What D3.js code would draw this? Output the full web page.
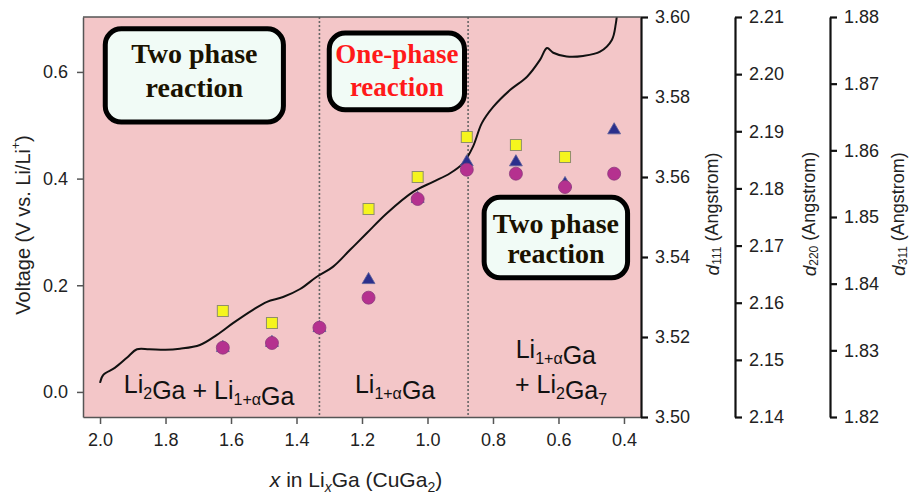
<!DOCTYPE html>
<html>
<head>
<meta charset="utf-8">
<script src="https://cdn.jsdelivr.net/npm/d3@7"></script>
<style>
  body { margin: 0; background: #fff; }
  text { font-family: "Liberation Sans", Arial, sans-serif; }
</style>
</head>
<body>
<script>
// voltage profile (x in LixGa, V vs Li/Li+)
const curveX = [2.0, 1.99, 1.955, 1.918, 1.887, 1.85, 1.8, 1.756, 1.695, 1.643, 1.594, 1.533, 1.49,
  1.441, 1.389, 1.338, 1.288, 1.237, 1.185, 1.124, 1.044, 0.983, 0.931, 0.891, 0.861, 0.834, 0.8,
  0.748, 0.696, 0.656, 0.635, 0.616, 0.575, 0.525, 0.473, 0.437, 0.425, 0.418];
const curveV = [0.017, 0.032, 0.045, 0.064, 0.08, 0.08, 0.079, 0.081, 0.088, 0.107, 0.129, 0.154, 0.169,
  0.178, 0.193, 0.216, 0.235, 0.266, 0.298, 0.335, 0.375, 0.394, 0.41, 0.429, 0.46, 0.504, 0.534,
  0.566, 0.591, 0.623, 0.645, 0.636, 0.629, 0.63, 0.638, 0.66, 0.69, 0.73];

// d-spacing points
const pointX = [1.625, 1.475, 1.33, 1.18, 1.03, 0.88, 0.73, 0.58, 0.43];
const d111 = [3.5265, 3.5235, null, 3.552, 3.560, 3.570, 3.568, 3.565, null];
const d220 = [2.1521, 2.1530, 2.1556, 2.1640, 2.1782, 2.1846, 2.1846, 2.1808, 2.1902];
const d311 = [1.8304, 1.8311, 1.8334, 1.8379, 1.8527, 1.8571, 1.8565, 1.8545, 1.8565];

// ticks
const xTicks = [2.0, 1.8, 1.6, 1.4, 1.2, 1.0, 0.8, 0.6, 0.4];
const vTicks = [0.0, 0.2, 0.4, 0.6];
const d111Ticks = [3.50, 3.52, 3.54, 3.56, 3.58, 3.60];
const d220Ticks = [2.14, 2.15, 2.16, 2.17, 2.18, 2.19, 2.20, 2.21];
const d311Ticks = [1.82, 1.83, 1.84, 1.85, 1.86, 1.87, 1.88];

const boundaries = [1.33, 0.876];

const width = 913;
const height = 495;
const pL = 83, pR = 641, pT = 17, pB = 417;

const svg = d3.select("body").append("svg")
  .attr("width", width)
  .attr("height", height);

const x = d3.scaleLinear().domain([2.052, 0.348]).range([pL, pR]);
const y = d3.scaleLinear().domain([-0.047, 0.703]).range([pB, pT]);
const y111 = d3.scaleLinear().domain([3.50, 3.60]).range([pB, pT]);
const y220 = d3.scaleLinear().domain([2.14, 2.21]).range([pB, pT]);
const y311 = d3.scaleLinear().domain([1.82, 1.88]).range([pB, pT]);

svg.append("defs").append("clipPath").attr("id", "clip")
  .append("rect")
  .attr("x", pL).attr("y", pT)
  .attr("width", pR - pL).attr("height", pB - pT);

// background
svg.append("rect")
  .attr("x", pL).attr("y", pT)
  .attr("width", pR - pL).attr("height", pB - pT)
  .attr("fill", "#f3c6c8");

// phase boundaries
svg.selectAll(".boundary")
  .data(boundaries)
  .enter()
  .append("line")
  .attr("class", "boundary")
  .attr("x1", (d) => x(d)).attr("x2", (d) => x(d))
  .attr("y1", pT).attr("y2", pB)
  .attr("stroke", "#666")
  .attr("stroke-width", 1.6)
  .attr("stroke-dasharray", "2,2");

// annotation boxes (data coords)
const boxes = [
  { x0: 1.984, x1: 1.44, y0: 0.681, y1: 0.506, lines: ["Two phase", "reaction"], color: "#1a1200", size: 28, b: [63, 97] },
  { x0: 1.30, x1: 0.887, y0: 0.673, y1: 0.529, lines: ["One-phase", "reaction"], color: "#ff1a1a", size: 27, b: [63, 96] },
  { x0: 0.827, x1: 0.389, y0: 0.365, y1: 0.214, lines: ["Two phase", "reaction"], color: "#1a1200", size: 28, b: [233, 263] },
];

const boxG = svg.append("g");
boxes.forEach((bx) => {
  boxG.append("rect")
    .attr("x", x(bx.x0)).attr("y", y(bx.y0))
    .attr("width", x(bx.x1) - x(bx.x0))
    .attr("height", y(bx.y1) - y(bx.y0))
    .attr("rx", 16)
    .attr("fill", "#f1fbf6")
    .attr("stroke", "#000")
    .attr("stroke-width", 5);
  bx.lines.forEach((t, i) => {
    boxG.append("text")
      .attr("x", (x(bx.x0) + x(bx.x1)) / 2)
      .attr("y", bx.b[i])
      .attr("text-anchor", "middle")
      .style("font-family", "'Liberation Serif', 'Times New Roman', serif")
      .style("font-weight", "bold")
      .style("font-size", bx.size + "px")
      .attr("fill", bx.color)
      .text(t);
  });
});

// voltage curve
const line = d3.line()
  .x((d, i) => x(curveX[i]))
  .y((d) => y(d))
  .curve(d3.curveCatmullRom);

svg.append("path")
  .attr("clip-path", "url(#clip)")
  .attr("d", line(curveV))
  .attr("fill", "none")
  .attr("stroke", "#111")
  .attr("stroke-width", 2);

// markers
const tri = d3.symbol().type(d3.symbolTriangle).size(72);

svg.append("g").selectAll("path")
  .data(pointX.map((px, i) => [px, d220[i]]).filter((d) => d[1] != null))
  .enter()
  .append("path")
  .attr("d", tri)
  .attr("transform", (d) => `translate(${x(d[0])},${y220(d[1])})`)
  .attr("fill", "#2b2f8c")
  .attr("stroke", "#5a5f9a")
  .attr("stroke-width", 0.8);

svg.append("g").selectAll("circle")
  .data(pointX.map((px, i) => [px, d311[i]]).filter((d) => d[1] != null))
  .enter()
  .append("circle")
  .attr("cx", (d) => x(d[0]))
  .attr("cy", (d) => y311(d[1]))
  .attr("r", 6.5)
  .attr("fill", "#b5318f")
  .attr("stroke", "#8a3a7c")
  .attr("stroke-width", 0.8);

svg.append("g").selectAll("rect")
  .data(pointX.map((px, i) => [px, d111[i]]).filter((d) => d[1] != null))
  .enter()
  .append("rect")
  .attr("x", (d) => x(d[0]) - 5.5)
  .attr("y", (d) => y111(d[1]) - 5.5)
  .attr("width", 11)
  .attr("height", 11)
  .attr("fill", "#f5f51e")
  .attr("stroke", "#8f8f6a")
  .attr("stroke-width", 1);

// phase labels
function phaseLabel(px, py, parts) {
  const t = svg.append("text")
    .attr("x", x(px)).attr("y", y(py))
    .attr("text-anchor", "middle")
    .style("font-size", "25px")
    .attr("fill", "#111");
  parts.forEach((p) => {
    if (p.sub) {
      t.append("tspan").attr("dy", 6).style("font-size", "16px").text(p.sub);
      t.append("tspan").attr("dy", -6).text("");
    } else {
      t.append("tspan").text(p.t);
    }
  });
}
phaseLabel(1.667, -0.002, [{ t: "Li" }, { sub: "2" }, { t: "Ga + Li" }, { sub: "1+\u03b1" }, { t: "Ga" }]);
phaseLabel(1.099, -0.002, [{ t: "Li" }, { sub: "1+\u03b1" }, { t: "Ga" }]);
phaseLabel(0.608, 0.064, [{ t: "Li" }, { sub: "1+\u03b1" }, { t: "Ga" }]);
phaseLabel(0.592, -0.002, [{ t: "+ Li" }, { sub: "2" }, { t: "Ga" }, { sub: "7" }]);

// frame top
svg.append("line")
  .attr("x1", pL).attr("x2", pR)
  .attr("y1", pT).attr("y2", pT)
  .attr("stroke", "#555").attr("stroke-width", 1.5);

// axes
function styleAxis(g, color, w) {
  g.selectAll("path").attr("stroke", color).attr("stroke-width", w);
  g.selectAll("line").attr("stroke", color).attr("stroke-width", w);
  g.selectAll("text").style("font-size", "18px").attr("fill", "#222")
    .style("font-family", "'Liberation Sans', Arial, sans-serif");
}

const gLeft = svg.append("g")
  .attr("transform", `translate(${pL},0)`)
  .call(d3.axisLeft(y).tickValues(vTicks).tickFormat(d3.format(".1f"))
    .tickSize(6).tickPadding(9).tickSizeOuter(0));
styleAxis(gLeft, "#555", 1.5);

const gBottom = svg.append("g")
  .attr("transform", `translate(0,${pB})`)
  .call(d3.axisBottom(x).tickValues(xTicks).tickFormat(d3.format(".1f"))
    .tickSize(7).tickPadding(9).tickSizeOuter(0));
styleAxis(gBottom, "#555", 1.5);

const rightAxes = [
  { scale: y111, ticks: d111Ticks, at: pR, label: "111", lx: 712 },
  { scale: y220, ticks: d220Ticks, at: 735, label: "220", lx: 809 },
  { scale: y311, ticks: d311Ticks, at: 830, label: "311", lx: 898 },
];

rightAxes.forEach((a) => {
  const g = svg.append("g")
    .attr("transform", `translate(${a.at},0)`)
    .call(d3.axisRight(a.scale).tickValues(a.ticks).tickFormat(d3.format(".2f"))
      .tickSize(7).tickPadding(7).tickSizeOuter(0));
  styleAxis(g, "#111", 2.2);

  const t = svg.append("text")
    .attr("transform", `translate(${a.lx},214) rotate(-90)`)
    .attr("text-anchor", "middle")
    .attr("dominant-baseline", "central")
    .style("font-size", "18px")
    .attr("fill", "#222");
  t.append("tspan").style("font-style", "italic").style("font-size", "19px").text("d");
  t.append("tspan").attr("dy", 5).style("font-size", "12px").text(a.label);
  t.append("tspan").attr("dy", -5).text(" (Angstrom)");
});

// axis titles
const yl = svg.append("text")
  .attr("transform", "translate(23,225) rotate(-90)")
  .attr("text-anchor", "middle")
  .attr("dominant-baseline", "central")
  .style("font-size", "20px")
  .attr("fill", "#222");
yl.append("tspan").text("Voltage (V vs. Li/Li");
yl.append("tspan").attr("dy", -7).style("font-size", "12px").text("+");
yl.append("tspan").attr("dy", 7).text(")");

const xl = svg.append("text")
  .attr("x", 356).attr("y", 487)
  .attr("text-anchor", "middle")
  .style("font-size", "21px")
  .attr("fill", "#222");
xl.append("tspan").style("font-style", "italic").text("x");
xl.append("tspan").text(" in Li");
xl.append("tspan").attr("dy", 5).style("font-size", "14px").style("font-style", "italic").text("x");
xl.append("tspan").attr("dy", -5).text("Ga (CuGa");
xl.append("tspan").attr("dy", 5).style("font-size", "14px").text("2");
xl.append("tspan").attr("dy", -5).text(")");
</script>
</body>
</html>
